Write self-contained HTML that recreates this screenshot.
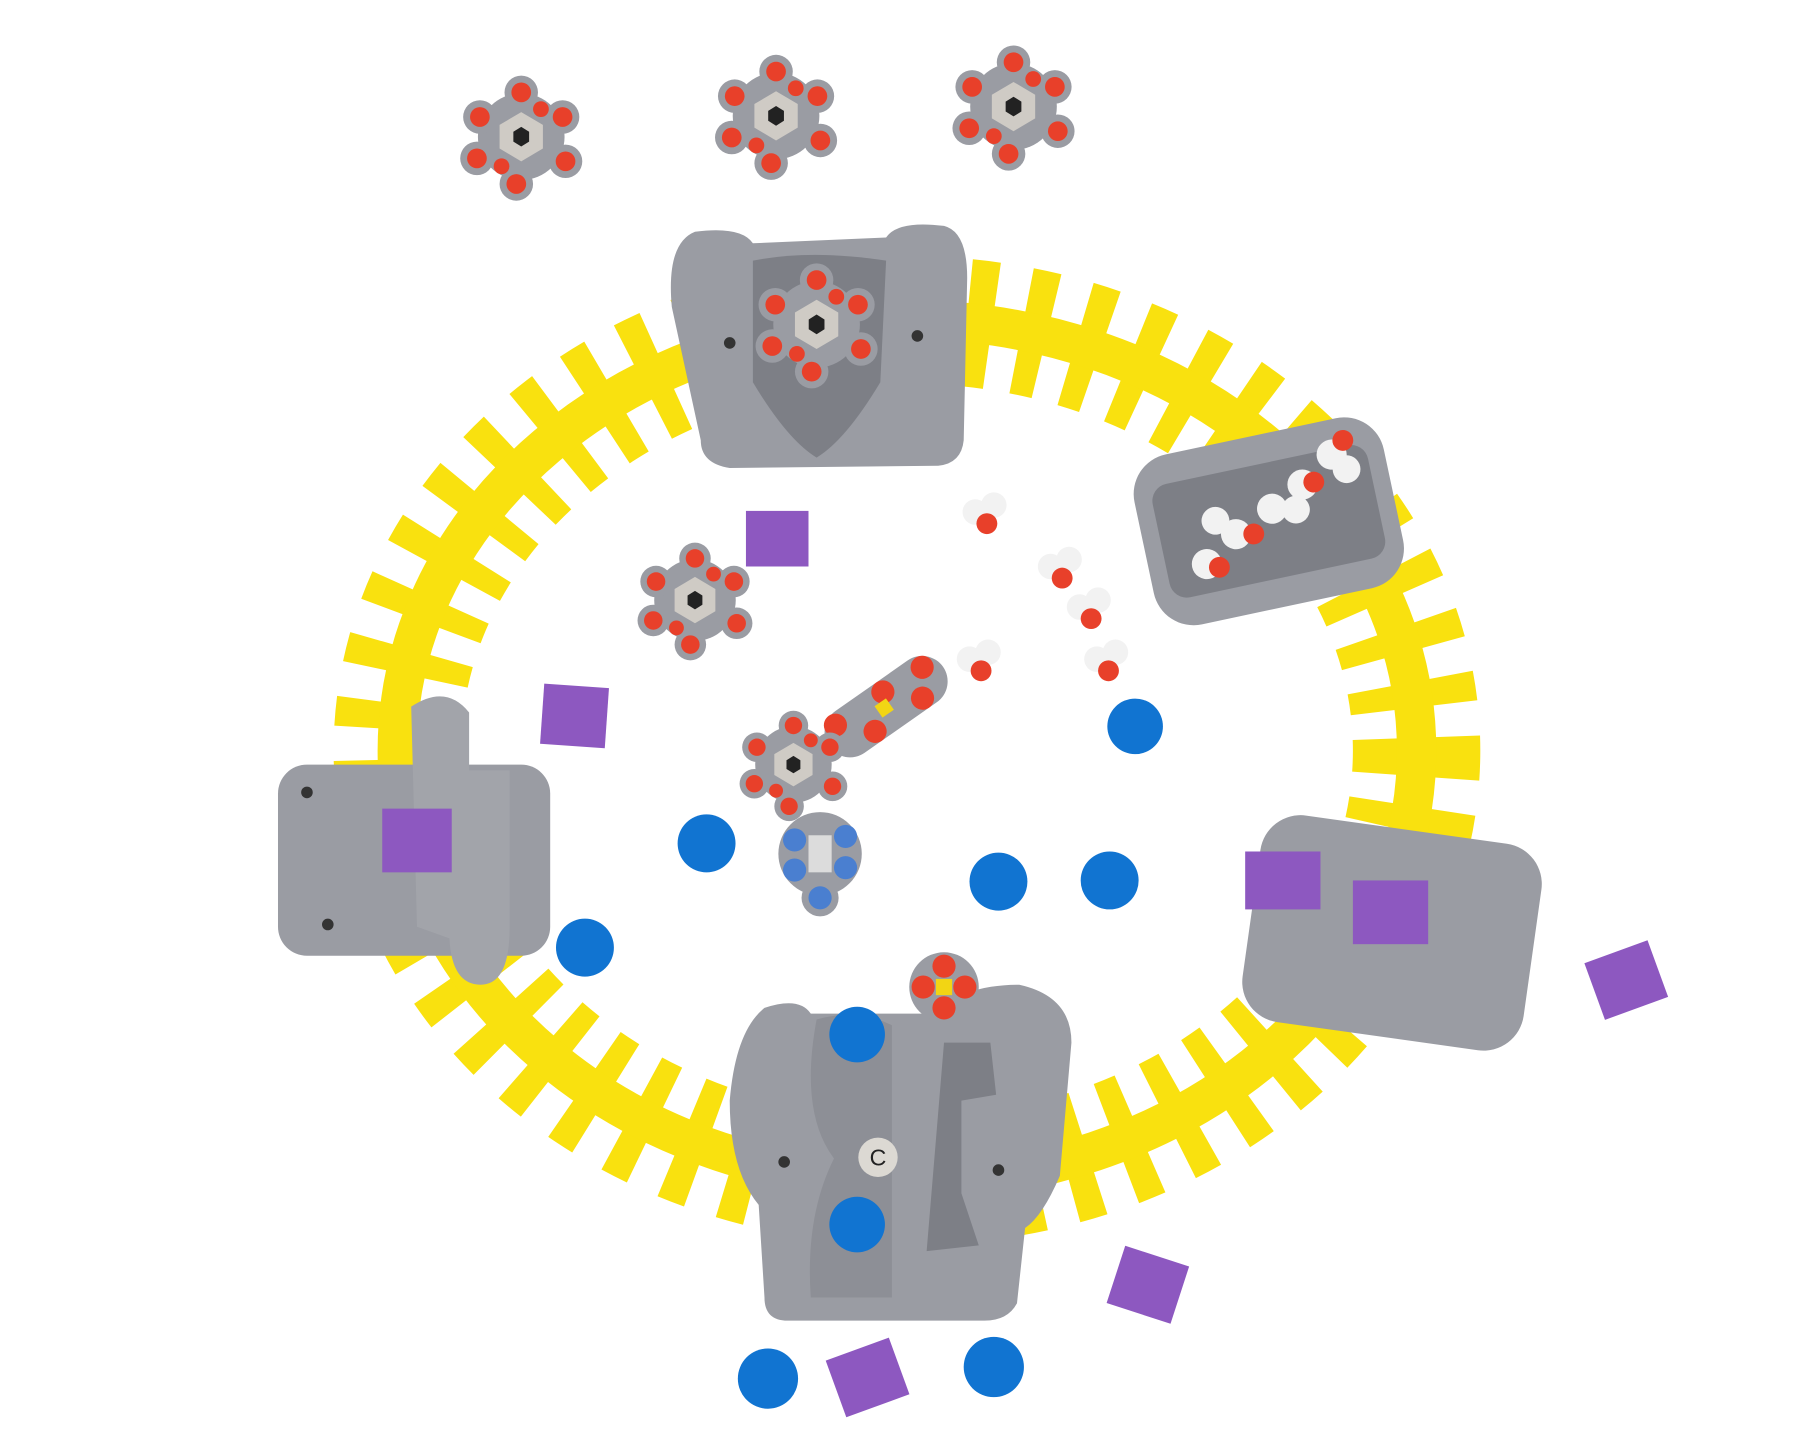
<!DOCTYPE html>
<html><head><meta charset="utf-8"><style>
html,body{margin:0;padding:0;background:#fff;width:1800px;height:1440px;overflow:hidden}
svg{display:block}
</style></head><body>
<svg width="1800" height="1440" viewBox="0 0 1554 1243" preserveAspectRatio="none" xmlns="http://www.w3.org/2000/svg">
<defs>
<g id="sugar">
  <circle r="44" fill="#9a9ca3"/>
  <g fill="#9a9ca3"><circle cx="-42" cy="-20" r="17"/><circle cx="42" cy="-20" r="17"/><circle cx="-45" cy="22" r="17"/><circle cx="45" cy="25" r="17"/><circle cx="0" cy="-45" r="17"/><circle cx="-5" cy="48" r="17"/></g>
  <polygon points="-22,-12 0,-25 22,-12 22,12 0,25 -22,12" fill="#cfcbc5"/>
  <polygon points="-8,-5 0,-10 8,-5 8,5 0,10 -8,5" fill="#222"/>
  <g fill="#e8402a"><circle cx="-42" cy="-20" r="10"/><circle cx="42" cy="-20" r="10"/><circle cx="-45" cy="22" r="10"/><circle cx="45" cy="25" r="10"/><circle cx="0" cy="-45" r="10"/><circle cx="-5" cy="48" r="10"/><circle cx="20" cy="-28" r="8"/><circle cx="-20" cy="30" r="8"/></g>
</g>
<g id="water"><circle cx="-8" cy="-6" r="11" fill="#f2f2f2"/><circle cx="8" cy="-12" r="11" fill="#f2f2f2"/><circle cx="2" cy="4" r="9" fill="#e8402a"/></g>
</defs>

<!-- yellow ring -->
<ellipse cx="783" cy="648" rx="440" ry="372" fill="none" stroke="#f9e10f" stroke-width="110" stroke-dasharray="22 26"/>
<ellipse cx="783" cy="648" rx="440" ry="372" fill="none" stroke="#f9e10f" stroke-width="34"/>

<!-- top sugars -->
<g transform="translate(450 118) scale(0.85)"><use href="#sugar"/></g>
<g transform="translate(670 100) scale(0.85)"><use href="#sugar"/></g>
<g transform="translate(875 92) scale(0.85)"><use href="#sugar"/></g>

<!-- top block -->
<path d="M600,200 Q640,195 650,210 L765,205 Q775,190 815,195 Q835,200 835,240 L832,380 Q830,400 810,402 L630,404 Q605,400 605,380 L580,265 Q575,210 600,200Z" fill="#9a9ca3"/>
<path d="M650,225 Q700,215 765,225 L760,330 Q730,380 705,395 Q680,380 650,330Z" fill="#7d7f86"/>
<g transform="translate(705 280) scale(0.85)"><use href="#sugar"/></g>
<circle cx="630" cy="296" r="5" fill="#333"/><circle cx="792" cy="290" r="5" fill="#333"/>

<!-- right upper block -->
<g transform="rotate(-12 1095 448)">
<rect x="985" y="375" width="220" height="150" rx="35" fill="#9a9ca3"/>
<rect x="1000" y="400" width="190" height="100" rx="15" fill="#7d7f86"/>
<g fill="#f2f2f2"><circle cx="1035" cy="475" r="13"/><circle cx="1065" cy="455" r="13"/><circle cx="1100" cy="440" r="13"/><circle cx="1130" cy="425" r="13"/><circle cx="1160" cy="405" r="13"/><circle cx="1050" cy="440" r="12"/><circle cx="1120" cy="445" r="12"/><circle cx="1170" cy="420" r="12"/></g>
<g fill="#e8402a"><circle cx="1045" cy="480" r="9"/><circle cx="1080" cy="458" r="9"/><circle cx="1140" cy="425" r="9"/><circle cx="1172" cy="395" r="9"/></g>
</g>

<!-- left block -->
<rect x="240" y="660" width="235" height="165" rx="25" fill="#9a9ca3"/>
<path d="M355,610 Q385,590 405,615 L405,665 L440,665 L440,800 Q440,850 415,850 Q390,850 388,810 L360,800Z" fill="#a2a4aa"/>
<rect x="330" y="698" width="60" height="55" fill="#8d58c0"/>
<circle cx="265" cy="684" r="5" fill="#333"/><circle cx="283" cy="798" r="5" fill="#333"/>

<!-- right lower block -->
<g transform="rotate(8 1200 800)">
<rect x="1080" y="715" width="245" height="180" rx="35" fill="#9a9ca3"/>
</g>
<rect x="1075" y="735" width="65" height="50" fill="#8d58c0"/>
<rect x="1168" y="760" width="65" height="55" fill="#8d58c0"/>

<!-- bottom block -->
<path d="M660,870 Q690,860 700,875 L810,875 Q830,850 880,850 Q925,860 925,900 L915,1015 Q900,1050 885,1060 L878,1125 Q870,1140 850,1140 L680,1140 Q660,1140 660,1120 L655,1040 Q630,1010 630,950 Q635,890 660,870Z" fill="#9a9ca3"/>
<path d="M705,880 Q740,870 770,885 L770,1120 L700,1120 Q695,1050 720,1000 Q690,960 705,880Z" fill="#8d8f96"/>
<path d="M815,900 L855,900 L860,945 L830,950 L830,1030 L845,1075 L800,1080 Z" fill="#7d7f86"/>
<circle cx="740" cy="893" r="24" fill="#1174d1"/>
<circle cx="740" cy="1057" r="24" fill="#1174d1"/>
<circle cx="758" cy="999" r="17" fill="#dcd9d3"/>
<text x="758" y="1006" text-anchor="middle" font-family="Liberation Sans, sans-serif" font-size="20" fill="#222">C</text>
<circle cx="677" cy="1003" r="5" fill="#333"/><circle cx="862" cy="1010" r="5" fill="#333"/>
<g transform="translate(815 852)"><circle r="30" fill="#9a9ca3"/><g fill="#e8402a"><circle cx="-18" r="10"/><circle cx="18" r="10"/><circle cy="-18" r="10"/><circle cy="18" r="10"/></g><rect x="-7" y="-7" width="14" height="14" fill="#f2d514"/></g>

<!-- center molecules -->
<g transform="translate(600 518) scale(0.8)"><use href="#sugar"/></g>
<g transform="translate(765 610) rotate(-35)"><rect x="-60" y="-22" width="120" height="44" rx="22" fill="#9a9ca3"/><g fill="#e8402a"><circle cx="-45" cy="-12" r="10"/><circle cx="-20" cy="12" r="10"/><circle cx="5" cy="-12" r="10"/><circle cx="30" cy="12" r="10"/><circle cx="45" cy="-10" r="10"/></g><rect x="-8" y="-6" width="12" height="12" fill="#f2d514"/></g>
<g transform="translate(685 660) scale(0.75)"><use href="#sugar"/></g>
<g transform="translate(708 737)"><circle r="36" fill="#9a9ca3"/><circle cx="0" cy="38" r="16" fill="#9a9ca3"/><g fill="#4a7fd0"><circle cx="-22" cy="-12" r="10"/><circle cx="22" cy="-15" r="10"/><circle cx="-22" cy="14" r="10"/><circle cx="22" cy="12" r="10"/><circle cx="0" cy="38" r="10"/></g><rect x="-10" y="-16" width="20" height="32" fill="#dcdcdc"/></g>
<use href="#water" x="850" y="448"/>
<use href="#water" x="915" y="495"/>
<use href="#water" x="940" y="530"/>
<use href="#water" x="845" y="575"/>
<use href="#water" x="955" y="575"/>

<!-- purple squares -->
<rect x="644" y="441" width="54" height="48" fill="#8d58c0"/>
<rect x="468" y="592" width="56" height="52" fill="#8d58c0" transform="rotate(4 496 618)"/>
<rect x="1375" y="820" width="58" height="52" fill="#8d58c0" transform="rotate(-20 1404 846)"/>
<rect x="962" y="1083" width="58" height="52" fill="#8d58c0" transform="rotate(18 991 1109)"/>
<rect x="720" y="1163" width="58" height="52" fill="#8d58c0" transform="rotate(-20 749 1189)"/>

<!-- blue circles -->
<g fill="#1174d1">
<circle cx="980" cy="627" r="24"/><circle cx="610" cy="728" r="25"/><circle cx="862" cy="761" r="25"/><circle cx="958" cy="760" r="25"/>
<circle cx="505" cy="818" r="25"/><circle cx="663" cy="1190" r="26"/><circle cx="858" cy="1180" r="26"/>
</g>
</svg>
</body></html>
